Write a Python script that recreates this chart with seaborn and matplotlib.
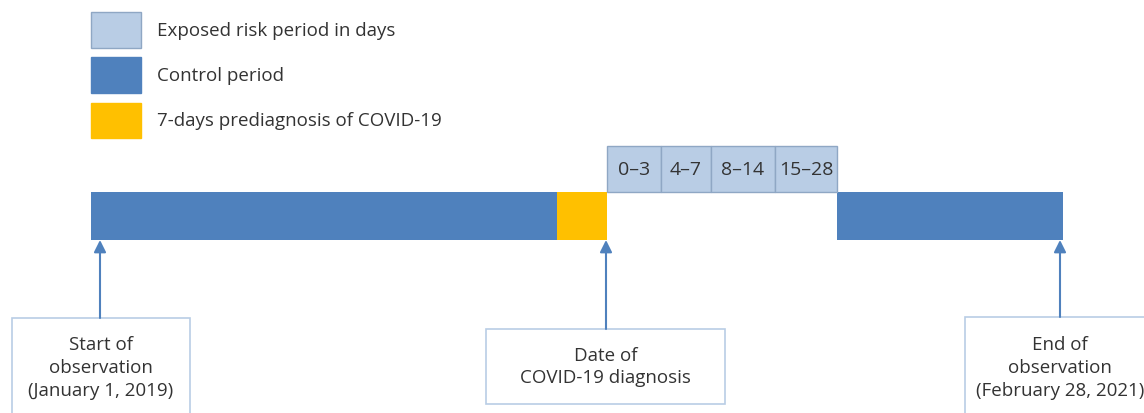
import matplotlib
matplotlib.use("Agg")
import matplotlib.pyplot as plt
from matplotlib.patches import Rectangle
import seaborn as sns

# timeline segments (x positions on the diagram's axis)
control_left = (91, 557)
prediag = (557, 607)
exposed_edges = [607, 661, 711, 775, 837]
exposed_labels = ["0–3", "4–7", "8–14", "15–28"]
control_right = (837, 1063)

# event markers: x of arrow, box extent, lines of text
event_x = [100, 606, 1060]
event_boxes = [(12, 190, 318, 420), (486, 725, 329, 404), (965, 1150, 317, 420)]
event_texts = ["Start of\nobservation\n(January 1, 2019)",
               "Date of\nCOVID-19 diagnosis",
               "End of\nobservation\n(February 28, 2021)"]

legend_labels = ["Exposed risk period in days", "Control period",
                 "7-days prediagnosis of COVID-19"]

light_blue = "#b9cde5"
light_edge = "#8fa7c4"
dark_blue = "#4f81bd"
yellow = "#ffc000"
text_col = "#333333"

sns.set_theme(style="white")
plt.rcParams['font.family'] = ['Open Sans', 'DejaVu Sans']

fig = plt.figure(figsize=(11.44, 4.13), dpi=100)
ax = fig.add_axes([0, 0, 1, 1])
ax.set_xlim(0, 1144)
ax.set_ylim(413, 0)
ax.axis('off')

bar_top, bar_bot = 192, 240
ax.barh((bar_top + bar_bot) / 2, control_left[1] - control_left[0], left=control_left[0],
        height=bar_bot - bar_top, color=dark_blue, linewidth=0)
ax.barh((bar_top + bar_bot) / 2, prediag[1] - prediag[0], left=prediag[0],
        height=bar_bot - bar_top, color=yellow, linewidth=0)
ax.barh((bar_top + bar_bot) / 2, control_right[1] - control_right[0], left=control_right[0],
        height=bar_bot - bar_top, color=dark_blue, linewidth=0)

# exposed risk windows
ex_top, ex_bot = 146, 192
for i, lab in enumerate(exposed_labels):
    l, r = exposed_edges[i], exposed_edges[i + 1]
    ax.barh((ex_top + ex_bot) / 2, r - l, left=l, height=ex_bot - ex_top,
            color=light_blue, edgecolor=light_edge, linewidth=1)
    ax.text((l + r) / 2, (ex_top + ex_bot) / 2 + 1, lab, ha='center', va='center',
            fontsize=14, color=text_col)

# legend swatches
sw_y = [(12, 48), (57, 93), (103, 138)]
sw_cols = [light_blue, dark_blue, yellow]
sw_edges = [light_edge, dark_blue, yellow]
for (t, b), c, e, lab in zip(sw_y, sw_cols, sw_edges, legend_labels):
    ax.add_patch(Rectangle((91, t), 50, b - t, facecolor=c, edgecolor=e, linewidth=1))
    ax.text(157, (t + b) / 2 + 1, lab, ha='left', va='center', fontsize=13.5, color=text_col)

# event callouts
for x, (l, r, t, b), txt in zip(event_x, event_boxes, event_texts):
    ax.add_patch(Rectangle((l, t), r - l, b - t, facecolor='white',
                           edgecolor=light_blue, linewidth=1.2, clip_on=True))
    ax.annotate("", xy=(x, bar_bot), xytext=(x, t),
                arrowprops=dict(arrowstyle='-|>', color=dark_blue, lw=1.5,
                                mutation_scale=18, shrinkA=0, shrinkB=0))
    n = txt.count("\n") + 1
    cy = 368 if n == 3 else 367
    ax.text((l + min(r, 1144)) / 2 if x != 1060 else x, cy, txt, ha='center', va='center',
            fontsize=13.5, color=text_col, linespacing=1.35)

fig.savefig("out.png", dpi=100)
